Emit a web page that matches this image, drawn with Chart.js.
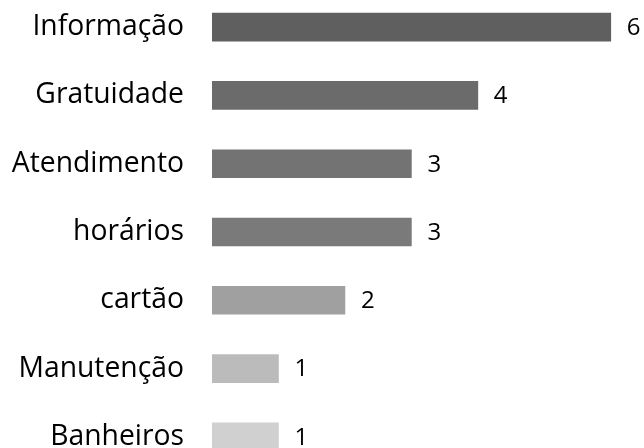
<!DOCTYPE html>
<html>
<head>
<meta charset="utf-8">
<script src="https://cdn.jsdelivr.net/npm/chart.js@4"></script>
<style>
html,body{margin:0;padding:0;background:#fff;overflow:hidden;width:644px;height:448px;}
#c{position:absolute;left:0;top:-7px;}
</style>
</head>
<body>
<canvas id="c" width="644" height="478"></canvas>
<script>
const categories = ["Informação","Gratuidade","Atendimento","horários","cartão","Manutenção","Banheiros"];
const values = [6,4,3,3,2,1,1];
const barColors = ["#5f5f5f","#6b6b6b","#737373","#7a7a7a","#a0a0a0","#bbbbbb","#d0d0d0"];

const valueLabels = {
  id:'valueLabels',
  afterDatasetsDraw(chart){
    const ctx = chart.ctx;
    const meta = chart.getDatasetMeta(0);
    ctx.save();
    ctx.font = '24px "Open Sans"';
    ctx.fillStyle = '#000';
    ctx.textAlign = 'left';
    ctx.textBaseline = 'middle';
    meta.data.forEach((bar,i)=>{
      ctx.fillText(String(values[i]), bar.x + 16, bar.y + 1);
    });
    ctx.restore();
  }
};

new Chart(document.getElementById('c'),{
  type:'bar',
  data:{labels:categories,datasets:[{data:values,backgroundColor:barColors,barThickness:28,borderWidth:0}]},
  options:{
    indexAxis:'y',
    responsive:false,
    maintainAspectRatio:false,
    animation:false,
    layout:{padding:0},
    plugins:{legend:{display:false},tooltip:{enabled:false}},
    scales:{
      x:{display:false,min:0,max:6.5},
      y:{
        grid:{display:false,drawTicks:false},
        border:{display:false},
        ticks:{color:'#000',padding:28,font:{family:'"Open Sans"',size:28.3}},
        afterFit(s){s.width=212;s.paddingTop=0;s.paddingBottom=0;}
      }
    }
  },
  plugins:[valueLabels]
});
</script>
</body>
</html>
